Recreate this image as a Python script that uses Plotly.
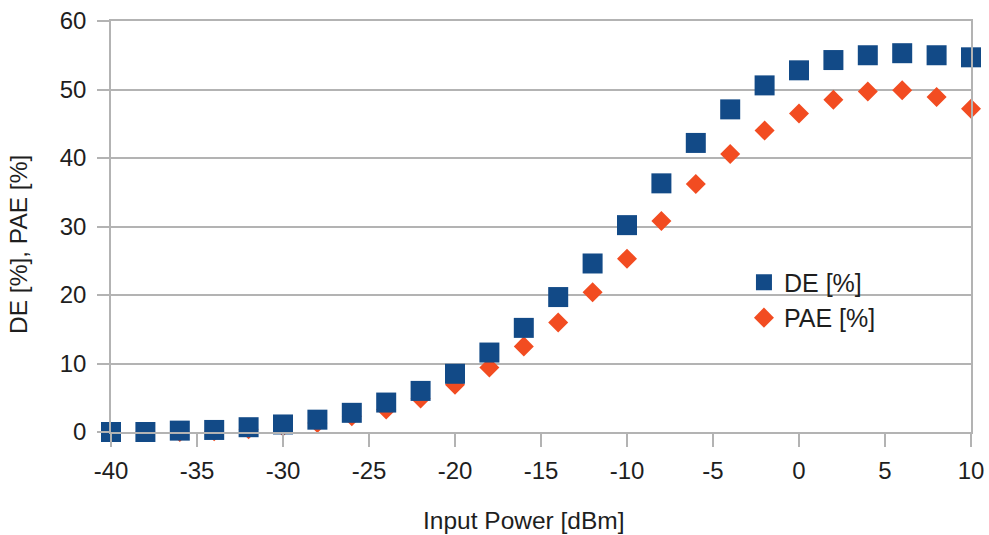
import plotly.graph_objects as go

# Input power sweep [dBm]
input_power = [-40, -38, -36, -34, -32, -30, -28, -26, -24, -22, -20, -18, -16,
               -14, -12, -10, -8, -6, -4, -2, 0, 2, 4, 6, 8, 10]

# Drain efficiency [%]
de = [0.0, 0.0, 0.2, 0.3, 0.7, 1.1, 1.8, 2.8, 4.3, 6.0, 8.5, 11.6, 15.2,
      19.7, 24.6, 30.2, 36.3, 42.2, 47.1, 50.6, 52.8, 54.3, 55.0, 55.3, 55.0, 54.7]

# Power added efficiency [%]
pae = [0.0, 0.0, 0.0, 0.1, 0.4, 0.8, 1.3, 2.3, 3.3, 4.9, 6.9, 9.4, 12.5,
       16.0, 20.4, 25.3, 30.8, 36.2, 40.6, 44.0, 46.5, 48.5, 49.7, 49.9, 48.9, 47.2]

x_ticks = [-40, -35, -30, -25, -20, -15, -10, -5, 0, 5, 10]
y_ticks = [0, 10, 20, 30, 40, 50, 60]

DE_COLOR = "#124a87"
PAE_COLOR = "#f24c21"
GRID = "#b3b3b3"
FONT = "Liberation Sans, Arial, sans-serif"
TEXT = "#1e1e1e"

W, H = 989, 535
M_L, M_R, M_T, M_B = 111, 18, 21, 103

fig = go.Figure()

fig.add_trace(go.Scatter(
    x=input_power, y=pae, mode="markers", name="PAE [%]",
    marker=dict(symbol="diamond", size=15.4, color=PAE_COLOR, line=dict(width=0)),
    cliponaxis=False, legendrank=2,
))
fig.add_trace(go.Scatter(
    x=input_power, y=de, mode="markers", name="DE [%]",
    marker=dict(symbol="square", size=20, color=DE_COLOR, line=dict(width=0)),
    cliponaxis=False, legendrank=1,
))

# Axis titles placed as annotations (pixel offsets from the plot area)
plot_w = W - M_L - M_R
plot_h = H - M_T - M_B
fig.add_annotation(
    text="Input Power [dBm]", xref="paper", yref="paper",
    x=(524 - M_L) / plot_w, y=0, yshift=-(520 - (H - M_B)),
    xanchor="center", yanchor="middle", showarrow=False,
    font=dict(size=24.5, family=FONT, color=TEXT),
)
fig.add_annotation(
    text="DE [%], PAE [%]", xref="paper", yref="paper",
    x=0, xshift=-(M_L - 18), y=((H - M_B) - 245) / plot_h,
    xanchor="center", yanchor="middle", textangle=-90, showarrow=False,
    font=dict(size=24.5, family=FONT, color=TEXT),
)

fig.update_layout(
    width=W, height=H,
    margin=dict(l=M_L, r=M_R, t=M_T, b=M_B, autoexpand=False),
    paper_bgcolor="white", plot_bgcolor="white",
    font=dict(family=FONT, color=TEXT, size=24),
    showlegend=True,
    legend=dict(
        x=0.736, y=0.42, xanchor="left", yanchor="top",
        bgcolor="rgba(0,0,0,0)", font=dict(size=25, family=FONT, color=TEXT),
        itemsizing="trace", tracegroupgap=0, itemwidth=30,
    ),
)

fig.update_xaxes(
    range=[-40, 10], tickvals=x_ticks, ticktext=[str(v) for v in x_ticks],
    showgrid=False, zeroline=False, automargin=False,
    showline=True, linecolor=GRID, linewidth=1.5, mirror=True,
    ticks="outside", ticklen=13, tickcolor=GRID, tickwidth=1.5,
    tickfont=dict(size=24, family=FONT, color=TEXT),
    ticklabelstandoff=3,
)
fig.update_yaxes(
    range=[0, 60], tickvals=y_ticks, ticktext=[str(v) for v in y_ticks],
    showgrid=True, gridcolor=GRID, gridwidth=1.5, zeroline=False, automargin=False,
    showline=True, linecolor=GRID, linewidth=1.5, mirror=True,
    ticks="outside", ticklen=12, tickcolor=GRID, tickwidth=1.5,
    tickfont=dict(size=24, family=FONT, color=TEXT),
    ticklabelstandoff=6,
)

fig.write_html("out.html")
